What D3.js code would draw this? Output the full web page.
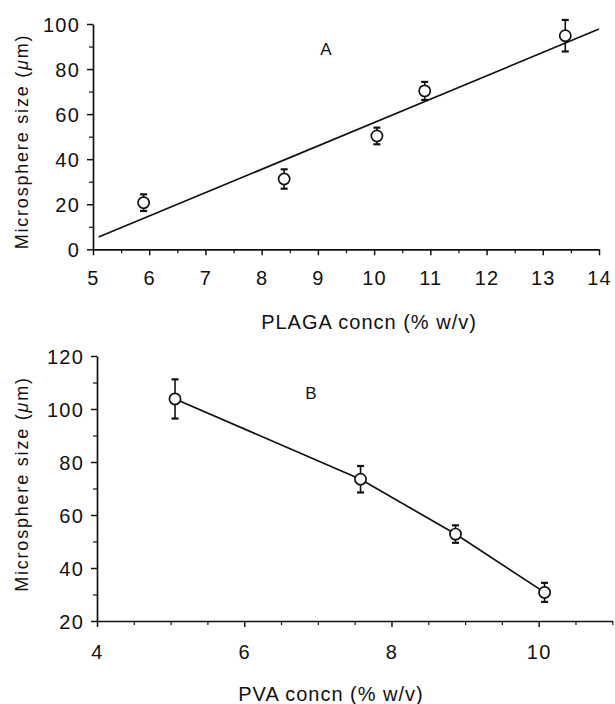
<!DOCTYPE html>
<html>
<head>
<meta charset="utf-8">
<script src="https://cdn.jsdelivr.net/npm/d3@7"></script>
<style>
  html, body { margin: 0; padding: 0; background: #fff; }
  svg { display: block; }
  text { font-family: "Liberation Sans", Arial, Helvetica, sans-serif; fill: #111; }
</style>
</head>
<body>
<svg id="chart" width="615" height="704"></svg>
<script>
// Panel A: microsphere size vs PLAGA concentration
const plagaConc = [5.9, 8.4, 10.05, 10.9, 13.4];
const sizeA     = [20.7, 31.2, 50.3, 70.3, 94.8];
const errA      = [3.7, 4.3, 3.7, 4.0, 7.0];
const fitRangeA = [5.1, 14];

// Panel B: microsphere size vs PVA concentration
const pvaConc = [5.06, 7.58, 8.87, 10.08];
const sizeB   = [103.8, 73.5, 52.8, 30.8];
const errB    = [7.4, 5.0, 3.3, 3.6];

// Axis ticks
const xTicksA = [5, 6, 7, 8, 9, 10, 11, 12, 13, 14];
const yTicksA = [0, 20, 40, 60, 80, 100];
const xTicksB = [4, 6, 8, 10];
const yTicksB = [20, 40, 60, 80, 100, 120];

const svg = d3.select("#chart");
const ink = "#111";

function styleAxis(g) {
  g.select(".domain").attr("stroke", ink).attr("stroke-width", 1.7);
  g.selectAll(".tick line").attr("stroke", ink).attr("stroke-width", 1.5);
  g.selectAll(".tick text")
    .attr("fill", ink)
    .style("font-size", "20px")
    .style("letter-spacing", "1.2px");
}

function minorAxis(g, axis) {
  g.call(axis);
  g.select(".domain").remove();
  g.selectAll(".tick line").attr("stroke", ink).attr("stroke-width", 1.2);
  g.selectAll(".tick text").remove();
}

function panel(opts) {
  const { x, y, xTicks, yTicks, xMinor, yMinor, xPad, xTitle, yTitle, letter } = opts;
  const g = svg.append("g");
  const x0 = x.range()[0], y0 = y.range()[0];

  // minor ticks
  g.append("g").attr("transform", `translate(0,${y0})`)
    .call(s => minorAxis(s, d3.axisBottom(x).tickValues(xMinor).tickSize(4).tickFormat("")));
  g.append("g").attr("transform", `translate(${x0},0)`)
    .call(s => minorAxis(s, d3.axisLeft(y).tickValues(yMinor).tickSize(4).tickFormat("")));

  // major axes
  g.append("g").attr("transform", `translate(0,${y0})`)
    .call(d3.axisBottom(x).tickValues(xTicks).tickSize(6).tickSizeOuter(0).tickPadding(xPad).tickFormat(d3.format("d")))
    .call(styleAxis);
  g.append("g").attr("transform", `translate(${x0},0)`)
    .call(d3.axisLeft(y).tickValues(yTicks).tickSize(6).tickSizeOuter(0).tickPadding(7).tickFormat(d3.format("d")))
    .call(styleAxis)
    .call(s => s.selectAll(".tick text").attr("dy", "0.36em"));

  // axis titles
  g.append("text")
    .attr("x", xTitle.x).attr("y", xTitle.y)
    .attr("text-anchor", "middle")
    .style("font-size", "20px").style("letter-spacing", "1px")
    .text(xTitle.text);
  const yt = g.append("text")
    .attr("transform", `translate(${yTitle.x},${yTitle.y}) rotate(-90)`)
    .attr("text-anchor", "middle")
    .style("font-size", "18px").style("letter-spacing", "1.8px");
  yt.append("tspan").text(yTitle.text + " (");
  yt.append("tspan").style("font-style", "italic").text("\u03bc");
  yt.append("tspan").text("m)");

  // panel letter
  g.append("text")
    .attr("x", letter.x).attr("y", letter.y)
    .attr("text-anchor", "middle")
    .style("font-size", "17px")
    .text(letter.text);

  return g;
}

function markers(g, x, y, xs, ys, es) {
  const pts = xs.map((v, i) => ({ x: v, y: ys[i], e: es[i] }));
  const cap = 3.5;
  const bars = g.append("g").attr("stroke", ink).attr("stroke-width", 1.6);
  pts.forEach(p => {
    const cx = x(p.x), hi = y(p.y + p.e), lo = y(p.y - p.e);
    bars.append("line").attr("x1", cx).attr("x2", cx).attr("y1", hi).attr("y2", lo);
    bars.append("line").attr("x1", cx - cap).attr("x2", cx + cap).attr("y1", hi).attr("y2", hi).attr("stroke-width", 2.2);
    bars.append("line").attr("x1", cx - cap).attr("x2", cx + cap).attr("y1", lo).attr("y2", lo).attr("stroke-width", 2.2);
  });
  g.append("g").selectAll("circle").data(pts).join("circle")
    .attr("cx", d => x(d.x)).attr("cy", d => y(d.y)).attr("r", 5.6)
    .attr("fill", "#fff").attr("stroke", ink).attr("stroke-width", 1.7);
}

// ---------- Panel A ----------
const xA = d3.scaleLinear().domain([5, 14]).range([93, 599]);
const yA = d3.scaleLinear().domain([0, 100]).range([249.3, 24]);
const gA = panel({
  x: xA, y: yA, xTicks: xTicksA, yTicks: yTicksA,
  xMinor: d3.range(5.5, 14, 1), yMinor: d3.range(10, 100, 20),
  xPad: 16,
  xTitle: { x: 369, y: 329, text: "PLAGA concn (% w/v)" },
  yTitle: { x: 28, y: 141.5, text: "Microsphere size" },
  letter: { x: 326, y: 55, text: "A" }
});

// least-squares fit through the panel A points
const mx = d3.mean(plagaConc), my = d3.mean(sizeA);
const slope = d3.sum(plagaConc, (v, i) => (v - mx) * (sizeA[i] - my)) /
              d3.sum(plagaConc, v => (v - mx) * (v - mx));
const icpt = my - slope * mx;
gA.append("path")
  .datum(fitRangeA)
  .attr("fill", "none").attr("stroke", ink).attr("stroke-width", 1.7)
  .attr("d", d3.line().x(d => xA(d)).y(d => yA(slope * d + icpt)));
markers(gA, xA, yA, plagaConc, sizeA, errA);

// ---------- Panel B ----------
const xB = d3.scaleLinear().domain([4, 11]).range([97, 612.3]);
const yB = d3.scaleLinear().domain([20, 120]).range([621, 356]);
const gB = panel({
  x: xB, y: yB, xTicks: xTicksB, yTicks: yTicksB,
  xMinor: d3.range(4.5, 11.01, 0.5).filter(v => !xTicksB.includes(v)),
  yMinor: d3.range(30, 120, 20),
  xPad: 18,
  xTitle: { x: 331, y: 701, text: "PVA concn (% w/v)" },
  yTitle: { x: 28, y: 484, text: "Microsphere size" },
  letter: { x: 311, y: 399, text: "B" }
});
gB.append("path")
  .datum(pvaConc.map((v, i) => [v, sizeB[i]]))
  .attr("fill", "none").attr("stroke", ink).attr("stroke-width", 1.7)
  .attr("d", d3.line().x(d => xB(d[0])).y(d => yB(d[1])));
markers(gB, xB, yB, pvaConc, sizeB, errB);
</script>
</body>
</html>
